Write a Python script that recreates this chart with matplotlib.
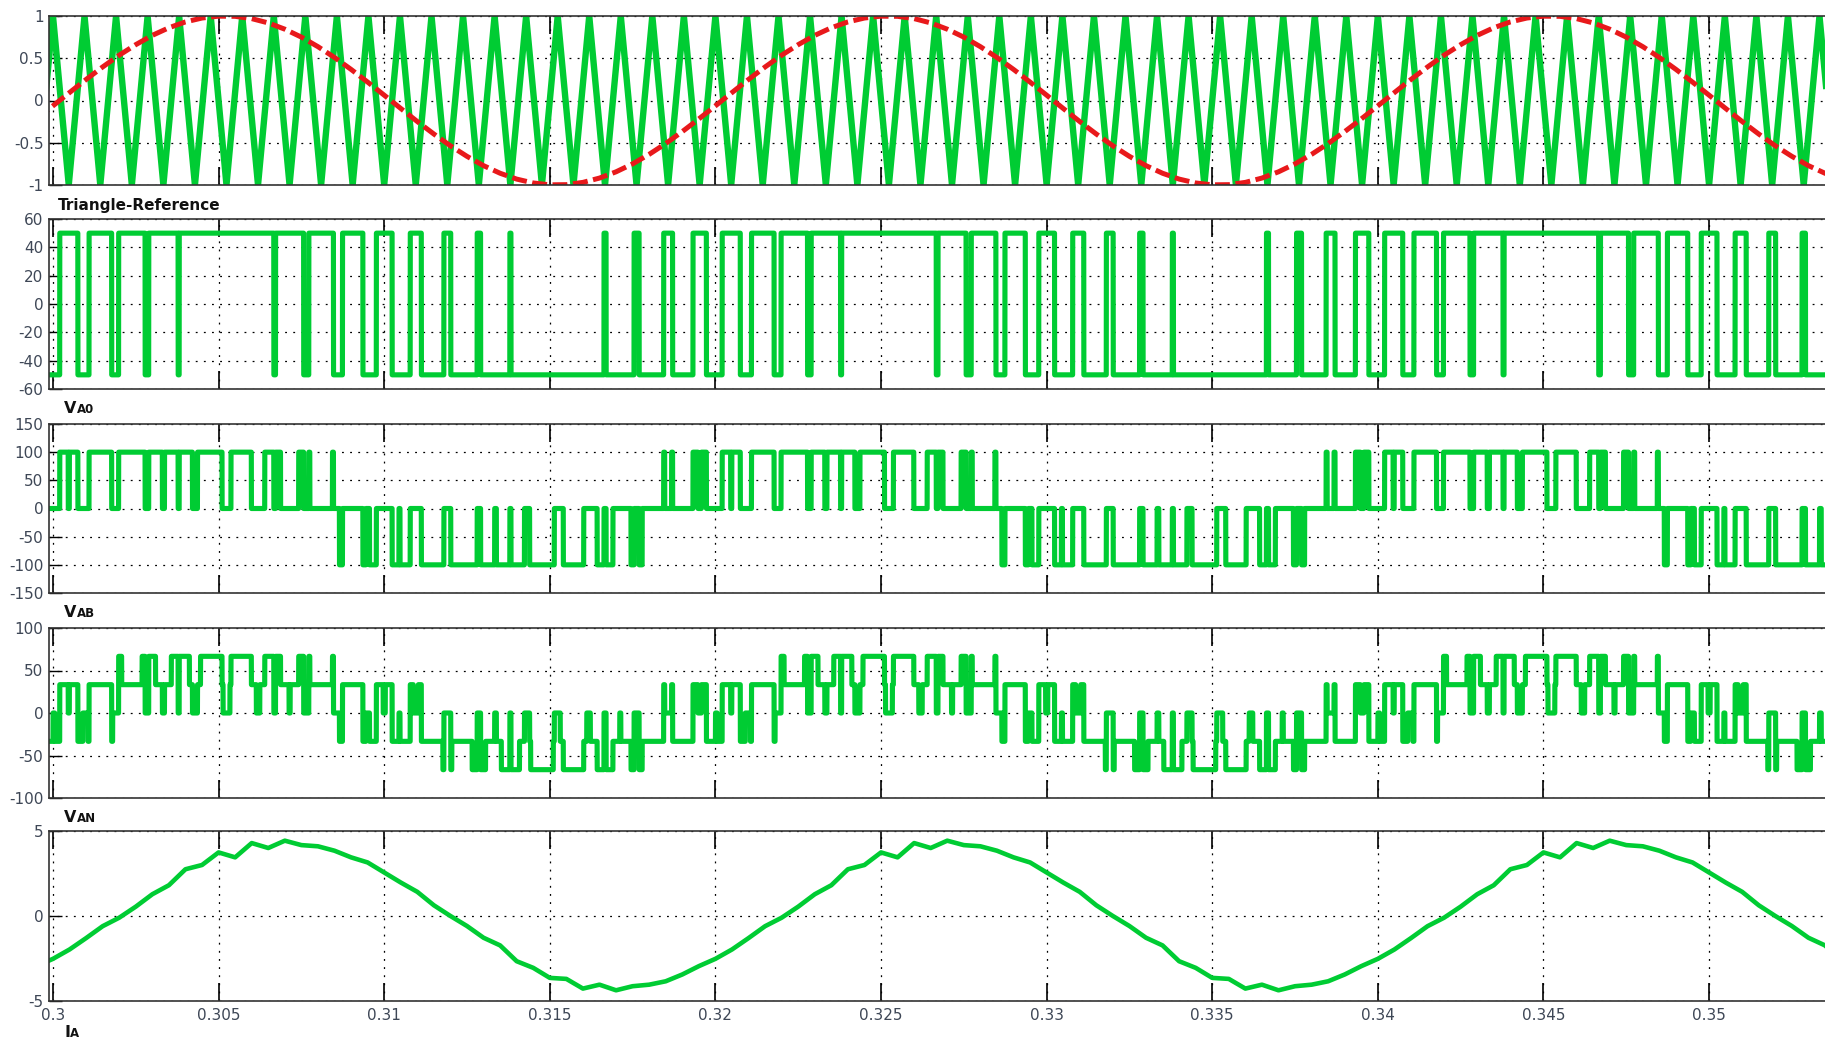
import numpy as np
import matplotlib.pyplot as plt
import matplotlib.transforms as mtransforms

# time base
t_start = 0.3
cycle = 0.02              # one fundamental period (repeats in every panel)
carrier_per_cycle = 21
sample_step = 0.0005      # spacing of the read-off samples

x_ticks = [0.3, 0.305, 0.31, 0.315, 0.32, 0.325, 0.33, 0.335, 0.34, 0.345, 0.35]
x_tick_labels = ["0.3", "0.305", "0.31", "0.315", "0.32", "0.325",
                 "0.33", "0.335", "0.34", "0.345", "0.35"]

# reference, one cycle read every 0.5 ms
reference = [-0.063, 0.094, 0.249, 0.397, 0.536, 0.661, 0.771, 0.861, 0.930, 0.976,
             0.998, 0.996, 0.969, 0.918, 0.844, 0.750, 0.637, 0.509, 0.368, 0.218,
             0.063, -0.094, -0.249, -0.397, -0.536, -0.661, -0.771, -0.861, -0.930, -0.976,
             -0.998, -0.996, -0.969, -0.918, -0.844, -0.750, -0.637, -0.509, -0.368, -0.218]
carrier_vertices = [1, -1]

# fraction of each carrier period that a leg sits at +50, one cycle
duty_a = [0.575, 0.717, 0.840, 0.933, 1.0, 1.0, 1.0, 0.891, 0.782, 0.647, 0.5,
          0.353, 0.218, 0.109, 0.035, 0.0, 0.0, 0.067, 0.160, 0.283, 0.425]
duty_b = [0.035, 0.0, 0.0, 0.067, 0.160, 0.283, 0.425, 0.575, 0.717, 0.840, 0.933,
          1.0, 1.0, 1.0, 0.891, 0.782, 0.647, 0.5, 0.353, 0.218, 0.109]
duty_c = [0.891, 0.782, 0.647, 0.5, 0.353, 0.218, 0.109, 0.035, 0.0, 0.0, 0.067,
          0.160, 0.283, 0.425, 0.575, 0.717, 0.840, 0.933, 1.0, 1.0, 1.0]
leg_level = 50

# phase current, one cycle read every 0.5 ms
current = [-2.52, -1.97, -1.30, -0.60, -0.10, 0.55, 1.28, 1.81, 2.75, 3.00,
           3.74, 3.45, 4.29, 4.00, 4.43, 4.17, 4.10, 3.84, 3.45, 3.15,
           2.56, 1.97, 1.42, 0.63, 0.00, -0.59, -1.28, -1.73, -2.66, -3.05,
           -3.64, -3.70, -4.27, -4.04, -4.37, -4.13, -4.04, -3.84, -3.44, -2.95]

panel_yticks = [
    [-1, -0.5, 0, 0.5, 1],
    [-60, -40, -20, 0, 20, 40, 60],
    [-150, -100, -50, 0, 50, 100, 150],
    [-100, -50, 0, 50, 100],
    [-5, 0, 5],
]
panel_ylabels = [
    ["-1", "-0.5", "0", "0.5", "1"],
    ["-60", "-40", "-20", "0", "20", "40", "60"],
    ["-150", "-100", "-50", "0", "50", "100", "150"],
    ["-100", "-50", "0", "50", "100"],
    ["-5", "0", "5"],
]

green = "#00cc33"
red = "#e8191b"
label_grey = "#3e4756"
T = cycle / carrier_per_cycle
x_min, x_max = 0.29988, 0.3535

W, H = 1825, 1043
fig = plt.figure(figsize=(W / 100, H / 100), dpi=100)
panel_px = [(16, 185), (219, 389), (424, 593), (628, 798), (831, 1001)]
left_px = 49

axes = []
for i, (top, bot) in enumerate(panel_px):
    ax = fig.add_axes([left_px / W, 1 - bot / H, 1 - left_px / W, (bot - top) / H])
    ax.set_xlim(x_min, x_max)
    ax.set_ylim(panel_yticks[i][0], panel_yticks[i][-1])
    ax.set_xticks(x_ticks)
    ax.set_xticklabels(x_tick_labels)
    ax.set_yticks(panel_yticks[i])
    ax.set_yticklabels(panel_ylabels[i])
    ax.set_axisbelow(True)
    ax.grid(True, color="black", linestyle=(0, (1.5, 5)), linewidth=0.9)
    ax.tick_params(axis="x", direction="in", top=True, length=13, width=1.2,
                   labelbottom=(i == 4), labelsize=11, labelcolor=label_grey, pad=5)
    ax.tick_params(axis="y", direction="in", length=9, width=1.0,
                   labelsize=11, labelcolor=label_grey, pad=4)
    ax.spines["right"].set_visible(False)
    for s in ["left", "top", "bottom"]:
        ax.spines[s].set_linewidth(1.2)
        ax.spines[s].set_color("#333333")
    axes.append(ax)

# panel 1: carrier and reference
n_ref = np.arange(-1, 3 * len(reference) + 1)
t_ref = t_start + n_ref * sample_step
ref_vals = np.array(reference)[n_ref % len(reference)]
n_tri = np.arange(-1, int((x_max - t_start) / (T / 2)) + 3)
t_tri = t_start + n_tri * T / 2
tri_vals = np.array(carrier_vertices)[n_tri % 2]
axes[0].plot(t_tri, tri_vals, color=green, lw=4.6)
axes[0].plot(t_ref, ref_vals, color=red, lw=3.6, dashes=(3, 1.1))

# switching legs on a fine time grid
t_fine = np.arange(0.2995, 0.3540, 1e-6)


def leg_voltage(duty):
    phase = (t_fine - t_start) / T
    k = np.floor(phase).astype(int)
    offset = phase - k - 0.5
    d = np.asarray(duty)[k % carrier_per_cycle]
    return np.where(2 * np.abs(offset) <= d, leg_level, -leg_level)


va0 = leg_voltage(duty_a)
vb0 = leg_voltage(duty_b)
vc0 = leg_voltage(duty_c)
vab = va0 - vb0
van = (2 * va0 - vb0 - vc0) / 3

axes[1].plot(t_fine, va0, color=green, lw=3.7)
axes[2].plot(t_fine, vab, color=green, lw=3.7)
axes[3].plot(t_fine, van, color=green, lw=3.7)

n_cur = np.arange(-1, 3 * len(current) + 1)
t_cur = t_start + n_cur * sample_step
cur_vals = np.array(current)[n_cur % len(current)]
axes[4].plot(t_cur, cur_vals, color=green, lw=3.3)

# panel captions under each plot
fig.text(58 / W, 1 - 210 / H, "Triangle-Reference", fontsize=11, fontweight="bold",
         color="#111111", va="baseline")


def caption(base_px, big, small, shift):
    fig.text(64 / W, 1 - base_px / H, big, fontsize=11.5, fontweight="bold",
             color="#111111", va="baseline")
    off = mtransforms.offset_copy(fig.transFigure, fig=fig, x=shift, units="dots")
    fig.text(64 / W, 1 - base_px / H, small, transform=off, fontsize=8.5,
             fontweight="bold", color="#111111", va="baseline")


caption(413, "V", "A0", 12.5)
caption(617, "V", "AB", 12.5)
caption(822, "V", "AN", 12.5)
caption(1037, "I", "A", 6)

fig.savefig("out.png", dpi=100)
